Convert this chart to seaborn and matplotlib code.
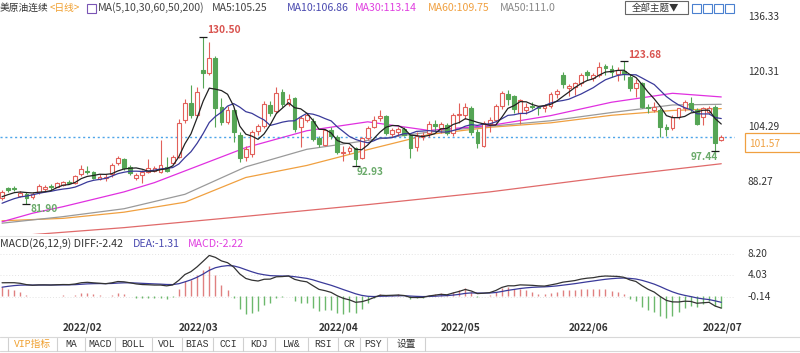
import numpy as np
import pandas as pd
import matplotlib
matplotlib.use("Agg")
import matplotlib.pyplot as plt
import seaborn as sns
from matplotlib.patches import Rectangle

sns.set_theme(style="white")
plt.rcParams["font.family"] = ["Noto Sans CJK SC", "DejaVu Sans"]

# ---- data (美原油连续, daily) ----
holidays = ["2022-02-21", "2022-04-15", "2022-05-30"]
dates = pd.bdate_range("2022-01-18", "2022-07-06", freq="C", holidays=holidays)

opens = [83.8, 86.6, 86.5, 84.3, 85.0, 84.0, 85.4, 86.4, 87.1, 87.0,
         87.5, 88.5, 88.2, 90.6, 91.7, 91.2, 89.3, 89.5, 90.6, 93.8,
         95.0, 92.8, 89.6, 90.4, 91.4, 91.7, 91.4, 92.8, 93.9, 95.7,
         106.4, 111.3, 107.9, 121.0, 120.0, 124.4, 110.3, 105.9, 109.3, 102.1,
         95.8, 96.5, 103.1, 104.7, 110.8, 109.0, 114.6, 111.2, 112.7, 104.5,
         106.5, 106.2, 101.3, 99.2, 103.4, 101.6, 96.8, 97.3, 98.2, 95.3,
         101.1, 104.5, 106.9, 107.5, 102.3, 102.8, 103.8, 102.0, 98.5, 101.5,
         102.5, 105.4, 104.2, 105.0, 102.5, 107.8, 108.0, 110.0, 102.8, 99.0,
         105.2, 106.3, 110.6, 114.0, 113.5, 108.5, 109.2, 110.6, 110.3, 109.8,
         110.5, 114.0, 119.5, 115.6, 116.0, 117.1, 120.3, 118.7, 119.6, 122.0,
         121.4, 119.7, 120.6, 119.0, 115.6, 117.1, 110.2, 109.4, 109.3, 104.3,
         104.0, 107.4, 109.8, 111.3, 109.3, 107.4, 108.85, 110.3, 100.6]
highs = [86.0, 87.0, 87.1, 85.8, 85.4, 85.5, 87.9, 87.6, 87.7, 88.4,
         88.6, 88.9, 90.4, 93.2, 92.9, 91.6, 90.6, 90.8, 94.0, 95.9,
         95.4, 93.4, 90.9, 91.8, 95.0, 92.9, 100.6, 95.7, 96.2, 106.8,
         112.5, 116.6, 116.1, 130.5, 129.2, 125.0, 112.8, 110.5, 110.0, 103.0,
         99.0, 103.5, 105.3, 112.0, 112.0, 116.0, 115.4, 114.0, 113.2, 107.5,
         108.5, 107.0, 101.8, 103.9, 104.5, 102.0, 98.8, 99.0, 98.6, 101.6,
         104.6, 107.7, 109.4, 108.0, 104.2, 104.3, 104.5, 102.3, 102.8, 102.8,
         106.0, 106.3, 105.8, 105.6, 108.5, 111.4, 111.3, 110.6, 103.9, 106.0,
         107.4, 111.0, 115.0, 115.2, 113.8, 112.6, 111.5, 111.8, 110.6, 111.0,
         114.5, 115.4, 120.3, 117.0, 117.5, 120.0, 120.9, 120.0, 123.2, 122.7,
         122.3, 121.8, 123.68, 119.8, 118.3, 117.6, 111.2, 111.8, 109.9, 105.3,
         107.9, 110.0, 112.3, 113.2, 110.0, 110.3, 110.6, 110.8, 102.0]
lows = [83.2, 85.6, 85.9, 83.9, 81.9, 83.4, 85.0, 85.9, 86.2, 86.8,
        87.1, 87.7, 87.7, 90.2, 90.7, 89.2, 88.9, 88.7, 89.8, 93.3,
        92.0, 90.5, 89.0, 88.0, 91.0, 91.2, 90.9, 91.2, 93.5, 95.3,
        105.6, 107.0, 107.3, 115.7, 119.5, 104.5, 105.0, 105.2, 100.0, 94.3,
        94.5, 95.8, 102.2, 104.0, 107.5, 108.5, 110.3, 110.6, 103.0, 98.7,
        105.8, 100.3, 98.6, 98.8, 100.8, 96.6, 94.6, 96.4, 92.93, 95.0,
        100.5, 104.0, 106.0, 102.0, 101.6, 101.8, 101.8, 95.5, 97.5, 100.5,
        101.5, 103.3, 102.5, 102.0, 101.8, 105.5, 106.8, 102.0, 98.2, 98.7,
        103.0, 105.8, 109.6, 110.8, 108.6, 105.3, 108.2, 109.5, 108.0, 108.8,
        109.8, 112.8, 115.8, 113.5, 113.8, 116.3, 118.0, 117.8, 119.0, 119.4,
        118.9, 117.9, 118.2, 114.9, 113.2, 109.8, 108.6, 108.7, 101.6, 101.8,
        103.6, 106.6, 109.1, 108.8, 105.0, 104.9, 108.3, 97.44, 100.3]
closes = [85.4, 86.1, 86.3, 85.2, 83.6, 84.8, 87.2, 86.9, 86.8, 88.1,
          88.3, 88.1, 90.1, 92.3, 91.3, 89.6, 89.9, 89.9, 93.3, 95.3,
          92.4, 91.0, 90.4, 91.4, 92.4, 92.4, 93.3, 91.6, 95.7, 105.6,
          111.3, 107.9, 114.7, 120.2, 124.4, 109.8, 105.9, 109.3, 103.0, 95.3,
          98.0, 103.0, 104.7, 111.0, 108.5, 114.3, 111.0, 112.5, 103.7, 106.9,
          107.9, 100.8, 99.3, 103.4, 101.8, 97.0, 97.2, 98.3, 95.2, 101.1,
          104.0, 106.5, 107.6, 102.5, 103.5, 103.8, 102.0, 98.3, 101.8, 102.1,
          105.4, 104.7, 105.2, 102.5, 107.8, 108.3, 110.2, 102.8, 99.6, 105.6,
          106.3, 110.5, 114.2, 112.5, 109.5, 112.2, 110.2, 110.3, 109.8, 110.5,
          114.0, 115.0, 117.0, 116.3, 117.2, 119.6, 119.5, 119.5, 121.8, 121.5,
          120.5, 121.0, 119.8, 115.6, 117.1, 110.3, 109.8, 110.1, 104.5, 103.8,
          107.4, 109.8, 111.8, 109.5, 105.4, 109.8, 109.85, 99.65, 101.57]
# closes before the first visible bar (only feed MA5 / MA10)
prior_closes = [79.2, 79.8, 80.4, 80.8, 81.3, 83.0, 83.5, 84.2, 84.4]

# long moving averages read at a few bars
ma30_idx = [0, 5, 10, 20, 25, 30, 40, 50, 60, 70, 80, 90, 100, 110, 118]
ma30_val = [76.8, 79.3, 81.2, 85.5, 88.2, 91.6, 98.4, 103.3, 105.9, 103.4, 104.8, 107.7, 111.6, 114.2, 113.14]
ma50_idx = [0, 10, 20, 30, 40, 50, 60, 70, 80, 90, 100, 110, 118]
ma50_val = [76.4, 78.3, 80.6, 84.8, 92.8, 97.9, 100.5, 102.9, 104.6, 106.2, 108.6, 110.8, 111.0]
ma60_idx = [0, 10, 20, 30, 40, 50, 60, 70, 80, 90, 100, 110, 118]
ma60_val = [77.1, 77.8, 79.6, 82.5, 89.7, 93.2, 97.8, 102.2, 104.3, 105.6, 107.8, 109.2, 109.75]
ma200_idx = [0, 20, 40, 60, 80, 100, 118]
ma200_val = [72.4, 75.1, 78.4, 81.8, 85.5, 90.0, 93.7]

# MACD(26,12,9) state before the first bar
ema12_seed, ema26_seed, dea_seed = 83.2, 80.6, 1.5

# texts shown on the chart
ma_header = ["MA(5,10,30,60,50,200)", "MA5:105.25", "MA10:106.86", "MA30:113.14",
             "MA60:109.75", "MA50:111.0"]
macd_header = ["MACD(26,12,9) DIFF:-2.42", "DEA:-1.31", "MACD:-2.22"]
price_labels = ["136.33", "120.31", "104.29", "88.27"]
macd_labels = ["8.20", "4.03", "-0.14"]
tabs = ["VIP指标", "MA", "MACD", "BOLL", "VOL", "BIAS", "CCI", "KDJ", "LW&", "RSI", "CR", "PSY", "设置"]

# ---- derived series ----
o, h, l, c = map(np.array, (opens, highs, lows, closes))
n = len(c)
idx = np.arange(n)
allc = pd.Series(prior_closes + closes)
ma5 = allc.rolling(5).mean().iloc[len(prior_closes):].to_numpy()
ma10 = allc.rolling(10).mean().iloc[len(prior_closes):].to_numpy()


def ema(seed, values, span):
    a = 2 / (span + 1)
    out, e = [], seed
    for v in values:
        e = e + a * (v - e)
        out.append(e)
    return np.array(out)


diff = ema(ema12_seed, c, 12) - ema(ema26_seed, c, 26)
dea = ema(dea_seed, diff, 9)
hist = 2 * (diff - dea)

RED, GREEN = "#e2605a", "#55a555"
ORANGE = "#f0a040"

W, H = 800, 353
fig = plt.figure(figsize=(W / 100, H / 100), dpi=100)
fig.patch.set_facecolor("white")


def fpos(x, y):
    return x / W, 1 - y / H


def box(x0, y0, x1, y1):
    return [x0 / W, 1 - y1 / H, (x1 - x0) / W, (y1 - y0) / H]


xlim = (-2.05 / 6.095, (735 - 2.05) / 6.095)

# ---- main price panel ----
ax = fig.add_axes(box(0, 12, 735, 234))
ax.set_xlim(*xlim)
ax.set_ylim(73.25, 137.86)
ax.axis("off")

up = c >= o
cols = np.where(up, RED, GREEN)
ax.vlines(idx, l, h, colors=cols, lw=0.8, zorder=2)
ax.bar(idx, np.maximum(np.abs(c - o), 0.12), bottom=np.minimum(o, c), width=0.62,
       color=np.where(up, "white", GREEN), edgecolor=cols, linewidth=0.8, zorder=3)

for xs, ys, col in [(ma200_idx, ma200_val, "#e06a6a"), (ma60_idx, ma60_val, "#f0a040"),
                    (ma50_idx, ma50_val, "#9a9a9a"), (ma30_idx, ma30_val, "#e030e0")]:
    sns.lineplot(x=xs, y=ys, ax=ax, color=col, linewidth=0.9, zorder=1)
sns.lineplot(x=idx, y=ma10, ax=ax, color="#3a3a9a", linewidth=0.9, zorder=4)
sns.lineplot(x=idx, y=ma5, ax=ax, color="#222222", linewidth=0.9, zorder=5)
ax.set_xlabel("")
ax.set_ylabel("")

ax.axhline(c[-1], color="#2f95e6", lw=1.0, ls=(0, (1.5, 2)), alpha=0.85, zorder=1)

# high / low marks
ihi = int(np.argmax(h[:60]))
ihi2 = 60 + int(np.argmax(h[60:]))
ilo = int(np.argmin(l[:20]))
ilo2 = 40 + int(np.argmin(l[40:70]))
ilo3 = 110 + int(np.argmin(l[110:]))
for i, v in [(ihi, h[ihi]), (ihi2, h[ihi2]), (ilo, l[ilo]), (ilo2, l[ilo2]), (ilo3, l[ilo3])]:
    ax.plot(i, v, marker="_", color="k", ms=6, mew=0.9, zorder=6)
ann = dict(textcoords="offset pixels", fontsize=7.3, fontweight="bold", zorder=7)
ax.annotate(f"{h[ihi]:.2f}", (ihi, h[ihi]), xytext=(4, 7), color="#d9534f", ha="left", va="center", **ann)
ax.annotate(f"{h[ihi2]:.2f}", (ihi2, h[ihi2]), xytext=(4, 6), color="#d9534f", ha="left", va="center", **ann)
ax.annotate(f"{l[ilo]:.2f}", (ilo, l[ilo]), xytext=(4, -5), color="#6aaa6a", ha="left", va="center", **ann)
ax.annotate(f"{l[ilo2]:.2f}", (ilo2, l[ilo2]), xytext=(1, -6), color="#6aaa6a", ha="left", va="center", **ann)
ax.annotate(f"{l[ilo3]:.2f}", (ilo3, l[ilo3]), xytext=(3, -6), color="#6aaa6a", ha="right", va="center", **ann)

tr = ax.get_yaxis_transform()
for s in price_labels:
    ax.text(748 / 735, float(s), s, transform=tr, ha="left", va="center",
            fontsize=7.3, color="#333333", clip_on=False)
fig.patches.append(Rectangle(fpos(745, 152), 60 / W, 19 / H, transform=fig.transFigure,
                             fill=True, fc="white", ec=ORANGE, lw=0.9))
fig.text(*fpos(749, 144), f"{c[-1]:.2f}", color=ORANGE, fontsize=7.3, ha="left", va="center")

# ---- header ----
hy = 8
hf = 7.6
fig.text(*fpos(0, hy), "美原油连续", fontsize=7, color="#333333", va="center")
fig.text(*fpos(50, hy), "<日线>", fontsize=7, color="#f0a030", va="center")
fig.patches.append(Rectangle(fpos(87, 13), 9 / W, 9 / H, transform=fig.transFigure,
                             fill=False, ec="#7a55b5", lw=0.8))
hx = [98, 212, 287, 355, 428, 500]
hc = ["#444444", "#444444", "#4a4ab0", "#e040e0", ORANGE, "#888888"]
for x0, t, col in zip(hx, ma_header, hc):
    fig.text(*fpos(x0, hy), t, fontsize=hf, color=col, va="center")
fig.patches.append(Rectangle(fpos(625, 14), 63 / W, 13 / H, transform=fig.transFigure,
                             fill=False, ec="#666666", lw=0.8))
fig.text(*fpos(656, 7.5), "全部主题▼", fontsize=6.8, color="#333333", ha="center", va="center")
for k in range(4):
    fig.patches.append(Rectangle(fpos(692 + 11 * k, 13), 9 / W, 9 / H, transform=fig.transFigure,
                                 fill=False, ec="#4a80d0", lw=0.8))

# ---- MACD panel ----
fig.add_artist(plt.Line2D([0, 1], [1 - 236 / H] * 2, color="#e6e6e6", lw=0.8))
axm = fig.add_axes(box(0, 236, 735, 322))
axm.set_xlim(*xlim)
axm.set_ylim(-5.08, 11.72)
for sp in axm.spines.values():
    sp.set_visible(False)
axm.set_yticks([])
for s in macd_labels:
    axm.axhline(float(s), color="#e4e4e4", lw=0.7, ls=(0, (1, 2)), zorder=0)
axm.vlines(idx, 0, hist, colors=np.where(hist >= 0, "#e08080", "#6cb86c"), lw=1.0, zorder=1)
sns.lineplot(x=idx, y=dea, ax=axm, color="#3a3a9a", linewidth=0.9, zorder=2)
sns.lineplot(x=idx, y=diff, ax=axm, color="#333333", linewidth=0.9, zorder=3)
axm.set_xlabel("")
axm.set_ylabel("")
trm = axm.get_yaxis_transform()
for s in macd_labels:
    axm.text(748 / 735, float(s), s, transform=trm, ha="left", va="center",
             fontsize=7.3, color="#333333", clip_on=False)

for x0, t, col in zip([0, 133, 188], macd_header, ["#333333", "#4a4ab0", "#e040e0"]):
    fig.text(*fpos(x0, 244), t, fontsize=hf, color=col, va="center")

# month ticks and labels
month_start = [i for i in range(1, n) if dates[i].month != dates[i - 1].month]
axm.set_xticks(month_start)
axm.set_xticklabels([])
axm.tick_params(axis="x", direction="in", length=4, width=0.8, color="#aaaaaa", pad=0)
for i in month_start:
    axm.text(i, -0.01, dates[i].strftime("%Y/%m"), transform=axm.get_xaxis_transform(),
             ha="left", va="top", fontsize=7.3, fontweight="bold", color="#333333")

# ---- tab bar ----
fig.add_artist(plt.Line2D([0, 1], [1 - 337 / H] * 2, color="#d8d8d8", lw=0.8))
fig.add_artist(plt.Line2D([0, 1], [1 - 351 / H] * 2, color="#d8d8d8", lw=0.8))
seps = [8, 57, 85, 115, 152, 182, 213, 243, 275, 308, 338, 360, 387, 425]
for sx in seps:
    fig.add_artist(plt.Line2D([sx / W] * 2, [1 - 338 / H, 1 - 351 / H], color="#d0d0d0", lw=0.8))
for k, t in enumerate(tabs):
    cx = (seps[k] + seps[k + 1]) / 2
    fig.text(*fpos(cx, 344), t, fontsize=7, ha="center", va="center",
             color="#f0a030" if k == 0 else "#333333",
             family=["Liberation Mono", "Noto Sans CJK SC"])

fig.savefig("out.png", dpi=100, facecolor="white")
